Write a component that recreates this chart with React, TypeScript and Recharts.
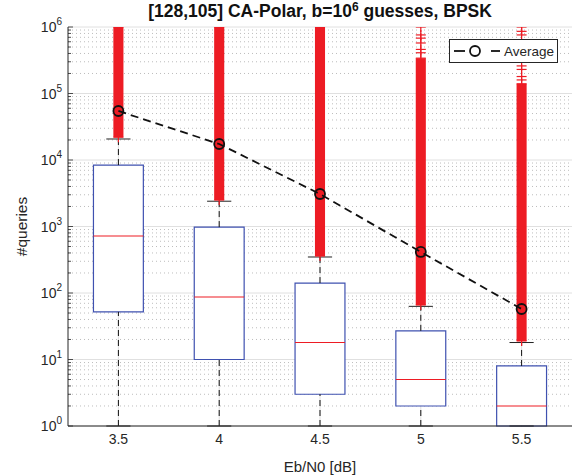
import React from "react";
import {
  ComposedChart,
  Line,
  Scatter,
  XAxis,
  YAxis,
  CartesianGrid,
  ReferenceArea,
  ReferenceLine,
  Legend,
} from "recharts";

// Eb/N0 categories
const ebn0Labels = ["3.5", "4", "4.5", "5", "5.5"];
const positions = [1, 2, 3, 4, 5];

// box statistics (#queries)
const q1 = [52, 10, 3, 2, 1];
const medians = [720, 87, 18, 5, 2];
const q3 = [8400, 980, 141, 27, 8];
const whiskerLow = [1, 1, 1, 1, 1];
const whiskerHigh = [20700, 2400, 348, 63, 18];

// mean number of queries
const averages = [54600, 17400, 3080, 414, 57.5];

// dense outlier bands (min, max) and the sparse outliers above them
const outlierLow = [22000, 2500, 360, 66, 19];
const outlierHigh = [1000000, 1000000, 1000000, 340000, 140000];
const sparseOutliers = [
  [],
  [],
  [],
  [1000000, 760000, 680000, 575000, 460000, 410000],
  [1000000, 860000, 760000, 260000, 230000, 180000, 160000],
];

const majorTicks = [1, 10, 100, 1000, 10000, 100000, 1000000];
const minorSteps = [2, 3, 4, 5, 6, 7, 8, 9];
const minorTicks = majorTicks.slice(0, 6).flatMap((d) => minorSteps.map((m) => m * d));
const allTicks = [...majorTicks, ...minorTicks].sort((a, b) => a - b);

const AXIS = "#262626";
const BOX_BLUE = "#3f51b0";
const RED = "#ed1c24";
const BOX_HALF = 0.2475;
const CAP_HALF = 0.12;
const BAND_HALF = 0.05;

const chartData = positions.map((x, i) => ({ x, avg: averages[i] }));

const outlierPoints = positions.flatMap((x, i) => [
  { x, y: outlierLow[i] },
  { x, y: outlierHigh[i] },
  ...sparseOutliers[i].map((y) => ({ x, y })),
]);

const LeftTick = ({ x, y, payload }: any) => {
  const v = payload.value as number;
  const major = majorTicks.includes(v);
  const ax = x + 6;
  return (
    <g>
      <line x1={ax} x2={ax + (major ? 5 : 3)} y1={y} y2={y} stroke={AXIS} strokeWidth={0.8} />
      {major && (
        <text x={x} y={y + 5} textAnchor="end" fill={AXIS} fontSize={14}>
          10
          <tspan dy={-7} fontSize={10}>
            {Math.round(Math.log10(v))}
          </tspan>
        </text>
      )}
    </g>
  );
};

const RightTick = ({ x, y, payload }: any) => {
  const major = majorTicks.includes(payload.value);
  return <line x1={x} x2={x - (major ? 5 : 3)} y1={y} y2={y} stroke={AXIS} strokeWidth={0.8} />;
};

const PlusMarker = ({ cx, cy }: any) => (
  <g stroke={RED} strokeWidth={1.2}>
    <line x1={cx - 5} x2={cx + 5} y1={cy} y2={cy} />
    <line x1={cx} x2={cx} y1={cy - 5} y2={cy + 5} />
  </g>
);

const AvgDot = ({ cx, cy }: any) => (
  <circle cx={cx} cy={cy} r={5} fill="none" stroke="#111" strokeWidth={1.8} />
);

const LegendBox = () => (
  <div
    style={{
      width: 109,
      height: 24,
      border: `1px solid ${AXIS}`,
      background: "#fff",
      display: "flex",
      alignItems: "center",
      fontSize: 13.5,
      color: AXIS,
      boxSizing: "border-box",
    }}
  >
    <svg width={54} height={22}>
      <line x1={4} x2={15} y1={11} y2={11} stroke="#111" strokeWidth={1.8} />
      <circle cx={25} cy={11} r={5} fill="none" stroke="#111" strokeWidth={1.8} />
      <line x1={41} x2={50} y1={11} y2={11} stroke="#111" strokeWidth={1.8} />
    </svg>
    <span>Average</span>
  </div>
);

export default function App() {
  return (
    <div
      style={{
        position: "absolute",
        left: 0,
        top: 0,
        width: 574,
        height: 475,
        background: "#fff",
        fontFamily: "'Liberation Sans', Arial, sans-serif",
      }}
    >
      <div
        style={{
          position: "absolute",
          left: 68,
          width: 504,
          top: 2,
          textAlign: "center",
          fontWeight: "bold",
          fontSize: 17.5,
          lineHeight: "19px",
          color: "#111",
        }}
      >
        [128,105] CA-Polar, b=10<sup style={{ fontSize: 12, verticalAlign: "6px", lineHeight: 0 }}>6</sup> guesses, BPSK
      </div>
      <ComposedChart
        width={574}
        height={475}
        data={chartData}
        margin={{ top: 27, right: 2, bottom: 0, left: 0 }}
      >
        <CartesianGrid
          horizontalValues={minorTicks}
          vertical={false}
          stroke="#bdbdbd"
          strokeDasharray="1 3"
        />
        <CartesianGrid
          horizontalValues={majorTicks}
          verticalValues={positions}
          stroke="#e0e0e0"
        />
        <XAxis
          dataKey="x"
          type="number"
          domain={[0.5, 5.5]}
          allowDataOverflow
          ticks={positions}
          interval={0}
          tickFormatter={(v) => ebn0Labels[v - 1]}
          tick={{ fontSize: 14, fill: AXIS }}
          tickLine={false}
          tickSize={0}
          tickMargin={8}
          axisLine={{ stroke: AXIS }}
          height={49}
          label={{ value: "Eb/N0 [dB]", position: "insideBottom", offset: 3, fontSize: 15, fill: AXIS }}
        />
        <XAxis
          xAxisId="top"
          orientation="top"
          type="number"
          domain={[0.5, 5.5]}
          allowDataOverflow
          tick={false}
          tickLine={false}
          height={0}
          axisLine={{ stroke: AXIS }}
        />
        <YAxis
          scale="log"
          type="number"
          domain={[1, 1000000]}
          allowDataOverflow
          ticks={allTicks}
          interval={0}
          tick={<LeftTick />}
          tickLine={false}
          tickSize={0}
          tickMargin={6}
          axisLine={{ stroke: AXIS }}
          width={68}
          label={{
            value: "#queries",
            angle: -90,
            position: "insideLeft",
            offset: 21,
            fontSize: 15.5,
            fill: AXIS,
            style: { textAnchor: "middle" },
          }}
        />
        <YAxis
          yAxisId="right"
          orientation="right"
          scale="log"
          type="number"
          domain={[1, 1000000]}
          allowDataOverflow
          ticks={allTicks}
          interval={0}
          tick={<RightTick />}
          tickLine={false}
          tickSize={0}
          tickMargin={0}
          axisLine={{ stroke: AXIS }}
          width={0}
        />

        {positions.map((x, i) => (
          <ReferenceArea
            key={`box-${x}`}
            x1={x - BOX_HALF}
            x2={x + BOX_HALF}
            y1={q1[i]}
            y2={q3[i]}
            ifOverflow="visible"
            fill="#fff"
            fillOpacity={1}
            stroke={BOX_BLUE}
            strokeWidth={1.2}
          />
        ))}
        {positions.map((x, i) => (
          <ReferenceLine
            key={`med-${x}`}
            segment={[
              { x: x - BOX_HALF, y: medians[i] },
              { x: x + BOX_HALF, y: medians[i] },
            ]}
            ifOverflow="visible"
            stroke={RED}
            strokeWidth={1.2}
          />
        ))}
        {positions.map((x, i) => (
          <ReferenceLine
            key={`wu-${x}`}
            segment={[
              { x, y: q3[i] },
              { x, y: whiskerHigh[i] },
            ]}
            ifOverflow="visible"
            stroke="#111"
            strokeDasharray="6 4"
          />
        ))}
        {positions.map((x, i) => (
          <ReferenceLine
            key={`wl-${x}`}
            segment={[
              { x, y: whiskerLow[i] },
              { x, y: q1[i] },
            ]}
            ifOverflow="visible"
            stroke="#111"
            strokeDasharray="6 4"
          />
        ))}
        {positions.map((x, i) => (
          <ReferenceLine
            key={`cu-${x}`}
            segment={[
              { x: x - CAP_HALF, y: whiskerHigh[i] },
              { x: x + CAP_HALF, y: whiskerHigh[i] },
            ]}
            ifOverflow="visible"
            stroke="#222"
          />
        ))}
        {positions.map((x, i) => (
          <ReferenceLine
            key={`cl-${x}`}
            segment={[
              { x: x - CAP_HALF, y: whiskerLow[i] },
              { x: x + CAP_HALF, y: whiskerLow[i] },
            ]}
            ifOverflow="visible"
            stroke="#222"
          />
        ))}
        {positions.map((x, i) => (
          <ReferenceArea
            key={`band-${x}`}
            x1={x - BAND_HALF}
            x2={x + BAND_HALF}
            y1={outlierLow[i]}
            y2={outlierHigh[i]}
            ifOverflow="visible"
            fill={RED}
            fillOpacity={1}
            stroke="none"
          />
        ))}

        <Scatter data={outlierPoints} dataKey="y" shape={<PlusMarker />} isAnimationActive={false} />
        <Line
          dataKey="avg"
          stroke="#111"
          strokeWidth={1.8}
          strokeDasharray="8 5"
          dot={<AvgDot />}
          activeDot={false}
          isAnimationActive={false}
        />
        <Legend
          layout="horizontal"
          verticalAlign="middle"
          align="center"
          content={<LegendBox />}
          wrapperStyle={{ left: 449, top: 39, width: 109, height: 24 }}
        />
      </ComposedChart>
    </div>
  );
}
